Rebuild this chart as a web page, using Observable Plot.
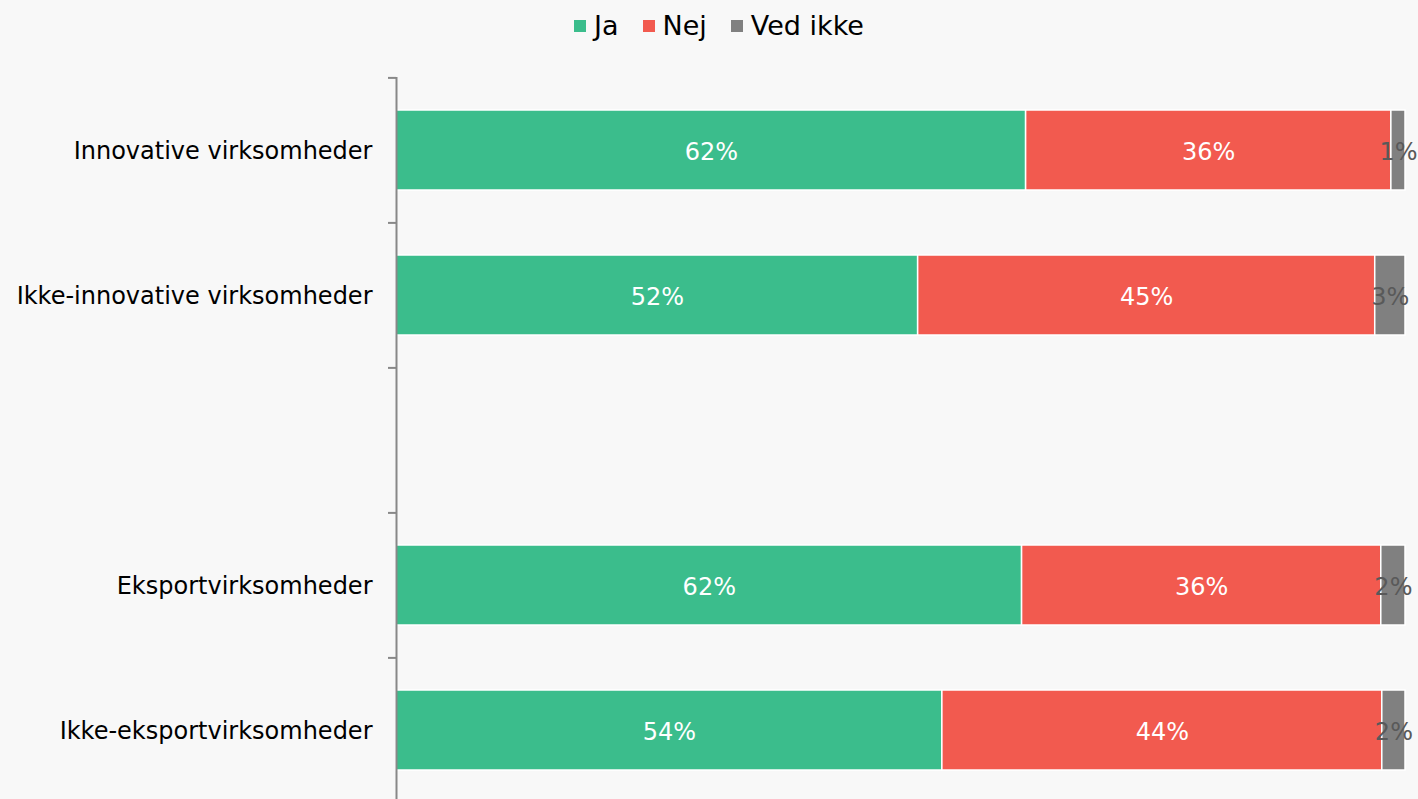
<!DOCTYPE html>
<html>
<head>
<meta charset="utf-8">
<script src="https://cdn.jsdelivr.net/npm/d3@7"></script>
<script src="https://cdn.jsdelivr.net/npm/@observablehq/plot@0.6"></script>
<style>
  html, body { margin: 0; padding: 0; background: #f8f8f8; overflow: hidden; }
  body { width: 1418px; height: 799px; font-family: "DejaVu Sans", Verdana, sans-serif; }
  #legend { height: 50px; display: flex; justify-content: center; align-items: center; padding-left: 20px; box-sizing: border-box; font-size: 27px; color: #000; }
  .item { display: flex; align-items: center; margin: 0 12px; }
  .sw { width: 12px; height: 12px; margin-right: 8px; margin-top: 1px; }
  #chart svg { display: block; }
</style>
</head>
<body>
<div id="legend"></div>
<div id="chart"></div>
<script>
const categories = ["Innovative virksomheder", "Ikke-innovative virksomheder", " ", "Eksportvirksomheder", "Ikke-eksportvirksomheder"];
const barCategories = ["Innovative virksomheder", "Ikke-innovative virksomheder", "Eksportvirksomheder", "Ikke-eksportvirksomheder"];
const answers = ["Ja", "Nej", "Ved ikke"];
const colors = ["#3bbd8c", "#f25a4f", "#808080"];
const jaValues = [62.4, 51.7, 62.0, 54.1];
const nejValues = [36.2, 45.3, 35.6, 43.6];
const vedIkkeValues = [1.4, 3.0, 2.4, 2.3];

const series = [jaValues, nejValues, vedIkkeValues];
const data = [];
barCategories.forEach((c, i) => {
  answers.forEach((a, j) => data.push({category: c, answer: a, value: series[j][i]}));
});

// legend
const legend = document.getElementById("legend");
answers.forEach((a, j) => {
  const it = document.createElement("div");
  it.className = "item";
  const sw = document.createElement("span");
  sw.className = "sw";
  sw.style.background = colors[j];
  const t = document.createElement("span");
  t.textContent = a;
  it.appendChild(sw); it.appendChild(t);
  legend.appendChild(it);
});

const W = 1418, H = 761, mt = 27, mb = 8, ml = 396, mr = 13;
const step = (H - mt - mb) / categories.length;
const label = d => Math.round(d.value) + "%";

const chart = Plot.plot({
  width: W, height: H,
  marginTop: mt, marginBottom: mb, marginLeft: ml, marginRight: mr,
  style: {background: "transparent", fontFamily: "DejaVu Sans, Verdana, sans-serif", fontSize: "24px", color: "#000"},
  x: {domain: [0, 100], axis: null},
  y: {domain: categories, paddingInner: 0.45, paddingOuter: 0.225, align: 0.5, axis: null},
  color: {domain: answers, range: colors},
  marks: [
    Plot.barX(data, Plot.stackX({x: "value", y: "category", fill: "answer", order: answers, stroke: "#fff", strokeWidth: 1.5})),
    Plot.text(data, Plot.stackX({x: "value", y: "category", z: "answer", order: answers,
      text: d => d.answer === "Ved ikke" ? null : label(d), fill: "#fff", fontSize: 24, dy: 2})),
    Plot.text(data, Plot.stackX({x: "value", y: "category", z: "answer", order: answers,
      text: d => d.answer === "Ved ikke" ? label(d) : null, fill: "#595959", fontSize: 24, dy: 2})),
    Plot.ruleX([0], {stroke: "#888", strokeWidth: 2}),
    Plot.axisY({tickSize: 8, tickFormat: () => "", dy: -step / 2, stroke: "#888", strokeWidth: 2, label: null}),
    Plot.axisY({tickSize: 0, tickPadding: 24, fontSize: 24, fill: "#000", label: null, dy: 1})
  ]
});
document.getElementById("chart").appendChild(chart);
</script>
</body>
</html>
